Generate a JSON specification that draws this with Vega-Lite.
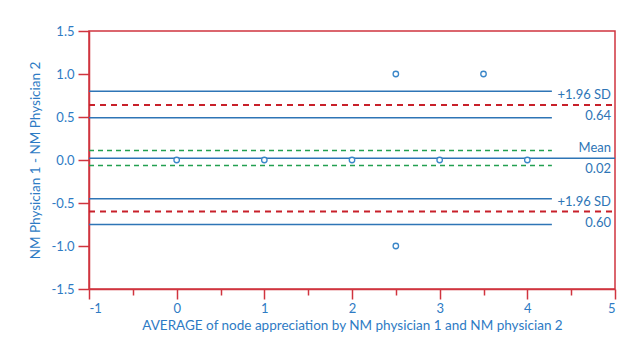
{
  "$schema": "https://vega.github.io/schema/vega-lite/v6.json",
  "width": 526,
  "height": 258,
  "autosize": {"type": "none"},
  "padding": {"left": 89, "top": 31, "right": 23, "bottom": 52},
  "background": "white",
  "config": {
    "view": {"stroke": "#d0343f", "strokeWidth": 1.5},
    "font": "Lato",
    "axis": {
      "domainColor": "#d0343f",
      "domainWidth": 1.5,
      "tickColor": "#d0343f",
      "tickWidth": 1.5,
      "grid": false,
      "labelColor": "#2e7bc4",
      "titleColor": "#2e7bc4",
      "labelFont": "Lato",
      "titleFont": "Lato",
      "labelFontSize": 13,
      "titleFontSize": 13.5,
      "titleFontWeight": "normal"
    }
  },
  "datasets": {
    "points": [
      {"avg": 0, "diff": 0},
      {"avg": 1, "diff": 0},
      {"avg": 2, "diff": 0},
      {"avg": 3, "diff": 0},
      {"avg": 4, "diff": 0},
      {"avg": 2.5, "diff": 1},
      {"avg": 3.5, "diff": 1},
      {"avg": 2.5, "diff": -1}
    ],
    "lines": [
      {"kind": "ci", "y": 0.80, "xs": -1, "xe": 4.28},
      {"kind": "ci", "y": 0.49, "xs": -1, "xe": 4.28},
      {"kind": "ci", "y": -0.45, "xs": -1, "xe": 4.28},
      {"kind": "ci", "y": -0.75, "xs": -1, "xe": 4.28},
      {"kind": "mean", "y": 0.02, "xs": -1, "xe": 5},
      {"kind": "meanci", "y": 0.11, "xs": -1, "xe": 4.28},
      {"kind": "meanci", "y": -0.065, "xs": -1, "xe": 4.28},
      {"kind": "loa", "y": 0.64, "xs": -1, "xe": 5},
      {"kind": "loa", "y": -0.60, "xs": -1, "xe": 5}
    ],
    "labels": [
      {"label": "+1.96 SD", "x": 5, "y": 0.64, "pos": "above"},
      {"label": "0.64", "x": 5, "y": 0.64, "pos": "below"},
      {"label": "Mean", "x": 5, "y": 0.02, "pos": "above"},
      {"label": "0.02", "x": 5, "y": 0.02, "pos": "below"},
      {"label": "+1.96 SD", "x": 5, "y": -0.60, "pos": "above"},
      {"label": "0.60", "x": 5, "y": -0.60, "pos": "below"}
    ]
  },
  "layer": [
    {
      "data": {"name": "lines"},
      "transform": [{"filter": "datum.kind === 'ci' || datum.kind === 'mean'"}],
      "mark": {"type": "rule", "color": "#2e75b6", "strokeWidth": 1.5},
      "encoding": {
        "x": {"field": "xs", "type": "quantitative", "scale": {"domain": [-1, 5], "nice": false, "zero": false}},
        "x2": {"field": "xe"},
        "y": {"field": "y", "type": "quantitative", "scale": {"domain": [-1.5, 1.5], "nice": false, "zero": false}}
      }
    },
    {
      "data": {"name": "lines"},
      "transform": [{"filter": "datum.kind === 'meanci'"}],
      "mark": {"type": "rule", "color": "#23a050", "strokeWidth": 1.5, "strokeDash": [5, 4]},
      "encoding": {
        "x": {"field": "xs", "type": "quantitative"},
        "x2": {"field": "xe"},
        "y": {"field": "y", "type": "quantitative"}
      }
    },
    {
      "data": {"name": "lines"},
      "transform": [{"filter": "datum.kind === 'loa'"}],
      "mark": {"type": "rule", "color": "#c8202a", "strokeWidth": 2, "strokeDash": [6, 5]},
      "encoding": {
        "x": {"field": "xs", "type": "quantitative"},
        "x2": {"field": "xe"},
        "y": {"field": "y", "type": "quantitative"}
      }
    },
    {
      "data": {"name": "points"},
      "mark": {"type": "point", "shape": "circle", "size": 30, "filled": false, "color": "#3a86c8", "strokeWidth": 1.3, "fill": "white", "fillOpacity": 1},
      "encoding": {
        "x": {
          "field": "avg", "type": "quantitative",
          "axis": {
            "title": "AVERAGE of node appreciation by NM physician 1 and NM physician 2",
            "values": [-1, -0.5, 0, 0.5, 1, 1.5, 2, 2.5, 3, 3.5, 4, 4.5, 5],
            "format": "~g",
            "labelExpr": "datum.value % 1 === 0 ? replace(datum.label, '\u2212', '-') : ''",
            "tickSize": {"condition": {"test": "datum.value % 1 === 0", "value": 10}, "value": 6},
            "labelPadding": 3,
            "titlePadding": 3
          }
        },
        "y": {
          "field": "diff", "type": "quantitative",
          "axis": {
            "title": "NM Physician 1 - NM Physician 2",
            "values": [-1.5, -1, -0.5, 0, 0.5, 1, 1.5],
            "format": ".1f",
            "labelExpr": "replace(datum.label, '\u2212', '-')",
            "tickSize": 11,
            "labelPadding": 4,
            "titlePadding": 9
          }
        }
      }
    },
    {
      "data": {"name": "labels"},
      "transform": [{"filter": "datum.pos === 'above'"}],
      "mark": {"type": "text", "align": "right", "baseline": "middle", "dx": -4, "dy": -10, "fontSize": 13, "color": "#2e75b6"},
      "encoding": {
        "x": {"field": "x", "type": "quantitative"},
        "y": {"field": "y", "type": "quantitative"},
        "text": {"field": "label"}
      }
    },
    {
      "data": {"name": "labels"},
      "transform": [{"filter": "datum.pos === 'below'"}],
      "mark": {"type": "text", "align": "right", "baseline": "middle", "dx": -4, "dy": 11, "fontSize": 13, "color": "#2e75b6"},
      "encoding": {
        "x": {"field": "x", "type": "quantitative"},
        "y": {"field": "y", "type": "quantitative"},
        "text": {"field": "label"}
      }
    }
  ]
}
